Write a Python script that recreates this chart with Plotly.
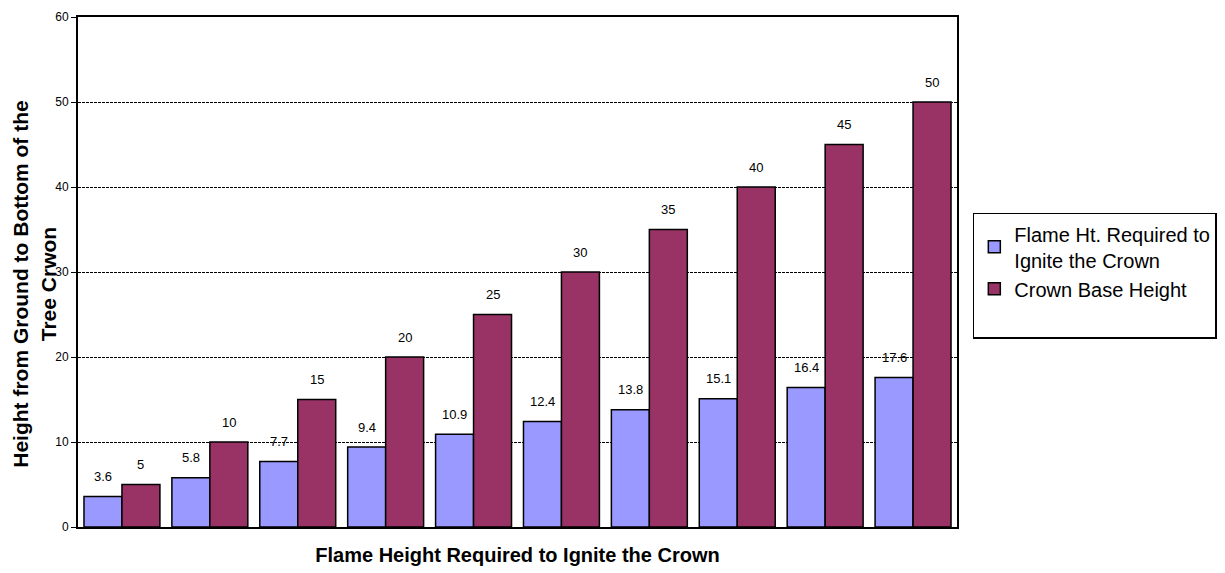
import plotly.graph_objects as go

categories = ["5", "10", "15", "20", "25", "30", "35", "40", "45", "50"]
flame_ht = [3.6, 5.8, 7.7, 9.4, 10.9, 12.4, 13.8, 15.1, 16.4, 17.6]
crown_base = [5, 10, 15, 20, 25, 30, 35, 40, 45, 50]
y_ticks = [0, 10, 20, 30, 40, 50, 60]

FONT = "Arial, Liberation Sans, sans-serif"
BARGAP = 0.136
PLOT_W = 1225 - 78 - 268
BAR_PX = PLOT_W / len(categories) * (1 - BARGAP) / 2

fig = go.Figure()
fig.add_trace(go.Bar(
    x=categories, y=flame_ht, name="Flame Ht. Required to<br>Ignite the Crown",
    marker=dict(color="#9999FF", line=dict(color="black", width=1.5)),
))
fig.add_trace(go.Bar(
    x=categories, y=crown_base, name="Crown Base Height",
    marker=dict(color="#993366", line=dict(color="black", width=1.5)),
))
# invisible entry to give the legend box its extra bottom space
fig.add_trace(go.Scatter(
    x=[categories[0]], y=[None], mode="markers", name=" ",
    marker=dict(color="rgba(0,0,0,0)", size=1), hoverinfo="skip",
))

annotations = []
for series, sign in ((flame_ht, -1), (crown_base, 1)):
    for i, v in enumerate(series):
        annotations.append(dict(
            x=i, y=v, xref="x", yref="y", text=f"{v:g}", showarrow=False,
            xshift=sign * BAR_PX / 2, yshift=20,
            font=dict(family=FONT, size=13, color="black"),
        ))

# y-axis title (placed as annotation so it can overlap the tick labels like the original)
annotations.append(dict(
    x=0, y=0.475, xref="paper", yref="paper", xanchor="center", yanchor="middle",
    xshift=-44, textangle=-90, showarrow=False,
    text="<b>Height from Ground to Bottom of the<br>Tree Crwon</b>",
    font=dict(family=FONT, size=21, color="black"),
))

fig.update_layout(
    width=1225, height=573,
    margin=dict(l=78, r=268, t=17, b=46, autoexpand=False),
    paper_bgcolor="white", plot_bgcolor="white",
    barmode="group", bargap=BARGAP, bargroupgap=0,
    font=dict(family=FONT, color="black"),
    showlegend=True,
    legend=dict(
        x=1.018, y=0.616, xanchor="left", yanchor="top",
        bordercolor="black", borderwidth=1.5,
        font=dict(family=FONT, size=20, color="black"),
        traceorder="normal", tracegroupgap=2,
        itemwidth=30,
    ),
    annotations=annotations,
)
fig.update_xaxes(
    type="category", categoryorder="array", categoryarray=categories,
    range=[-0.5, len(categories) - 0.5],
    showticklabels=False, ticks="",
    showline=True, linecolor="black", linewidth=2, mirror=True,
    title=dict(text="<b>Flame Height Required to Ignite the Crown</b>",
               font=dict(family=FONT, size=20, color="black"), standoff=20),
)
fig.update_yaxes(
    range=[0, 60], tickvals=y_ticks, ticks="outside", ticklen=5, tickcolor="black",
    tickfont=dict(family=FONT, size=12, color="black"),
    showline=True, linecolor="black", linewidth=2, mirror=True,
    showgrid=True, gridcolor="black", griddash="3px,1px", gridwidth=1,
    zeroline=False,
)

fig.write_html("out.html")
